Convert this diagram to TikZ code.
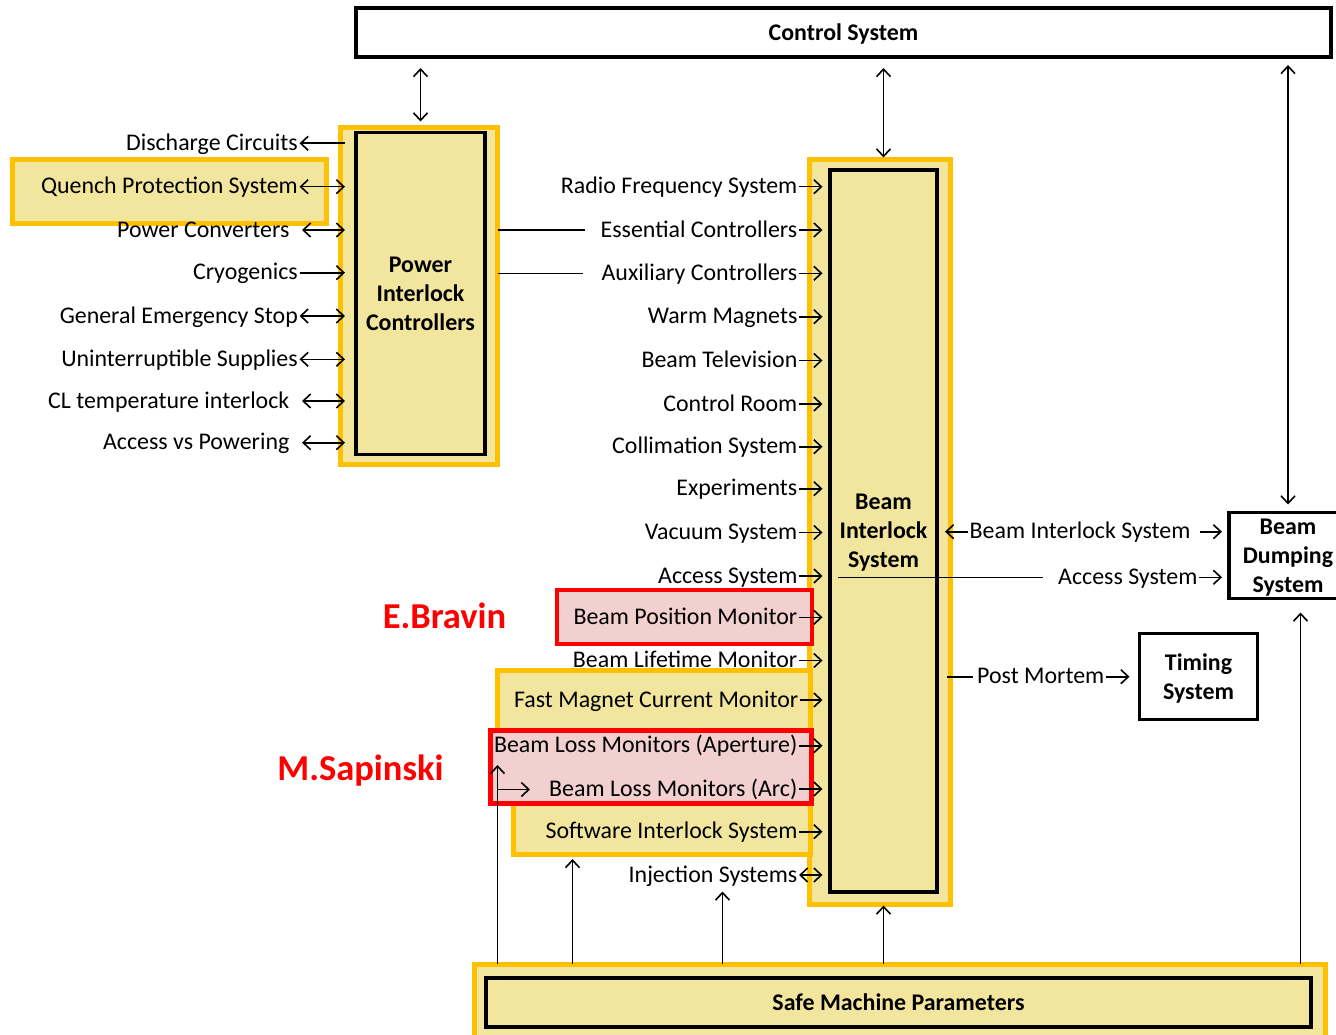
\documentclass[tikz,border=0pt]{standalone}
\usepackage{fontspec}
\setmainfont{Carlito}
\usetikzlibrary{arrows.meta,calc}
\definecolor{khaki}{RGB}{242,230,158}
\definecolor{amber}{RGB}{255,192,0}
\definecolor{rosy}{RGB}{243,208,208}
\tikzset{
  txt/.style={font=\fontsize{23.9}{29}\selectfont, inner xsep=1.5pt, inner ysep=0pt,
              text height=15.5pt, text depth=1.5pt},
  lbl/.style={txt, anchor=east},
  rlbl/.style={txt, anchor=west},
  title/.style={font=\fontsize{23.9}{29}\selectfont\bfseries, align=center, text depth=0pt},
  tag/.style={font=\fontsize{36.5}{40}\selectfont\bfseries, text=red, anchor=base, inner sep=0pt},
  hl/.style={draw=amber, line width=5pt, fill=khaki, inner sep=0pt, outer sep=0pt},
  rhl/.style={draw=red, line width=4.5pt, fill=rosy, inner sep=0pt, outer sep=0pt},
  blk/.style={draw=black, line width=3.5pt, inner sep=0pt, outer sep=0pt},
  link/.style={line width=1.6pt},
}
\begin{document}
\begin{tikzpicture}[x=1pt,y=-1pt,>={Straight Barb[length=7.5pt,width=14pt]}]
\useasboundingbox (0,0) rectangle (1336,1035);
\fill[white] (0,0) rectangle (1336,1035);

% top bar
\node[blk, fill=white, minimum width=975, minimum height=49, title] (cs) at (843.5,32.5) {Control System};

% power interlock controllers
\node[hl, minimum width=157, minimum height=337] (picout) at (419,296) {};
\node[hl, minimum width=314, minimum height=64] (qpsbox) at (169,191.5) {};

% beam interlock system frame and highlighted inputs
\node[hl, minimum width=141, minimum height=745] (bisout) at (880,532) {};
\node[hl, minimum width=313, minimum height=100] (fmcmbox) at (654,720) {};
\node[hl, minimum width=297, minimum height=70] (sisbox) at (662,819) {};
\node[rhl, minimum width=255, minimum height=54] (bpmbox) at (684.5,617) {};
\node[rhl, minimum width=321, minimum height=73] (blmbox) at (651,767) {};

\node[blk, fill=khaki, minimum width=129, minimum height=322, title] (pic) at (420.5,293.5) {Power\\Interlock\\Controllers};
\node[blk, fill=khaki, minimum width=107, minimum height=722, title] (bis) at (883.5,531) {Beam\\Interlock\\System};

% safe machine parameters
\node[hl, minimum width=851, minimum height=80] (smpout) at (900,1004) {};
\node[blk, fill=khaki, minimum width=825, minimum height=49, title] (smp) at (898.5,1002.5) {Safe Machine Parameters};

% receivers on the right
\node[blk, fill=white, minimum width=118, minimum height=86, title] (bds) at (1288,555.5) {Beam\\Dumping\\System};
\node[blk, fill=white, minimum width=118, minimum height=86, title] (tim) at (1198.5,676.5) {Timing\\System};

% tip positions
\coordinate (tipP) at (345,0);
\coordinate (tipB) at (822.5,0);

% left inputs of the power interlock controllers
\node[lbl] (dc)   at (299.5,143.3) {Discharge Circuits};
\node[lbl] (qps)  at (299.5,186.7) {Quench Protection System};
\node[lbl] (pc)   at (291,230)     {Power Converters};
\node[lbl] (cryo) at (299.5,272.7) {Cryogenics};
\node[lbl] (ges)  at (299.5,316)   {General Emergency Stop};
\node[lbl] (ups)  at (299.5,359.3) {Uninterruptible Supplies};
\node[lbl] (cl)   at (291,401)     {CL temperature interlock};
\node[lbl] (avp)  at (291,442.7)   {Access vs Powering};

\draw[link,<-]  (dc.east) -- (dc.east -| tipP);
\draw[link,<->] (qps.east) -- (qps.east -| tipP);
\draw[link,<->] ([xshift=11pt]pc.east) -- (pc.east -| tipP);
\draw[link,->]  (cryo.east) -- (cryo.east -| tipP);
\draw[link,<->] (ges.east) -- (ges.east -| tipP);
\draw[link,<->] (ups.east) -- (ups.east -| tipP);
\draw[link,<->] ([xshift=11pt]cl.east) -- (cl.east -| tipP);
\draw[link,<->] ([xshift=11pt]avp.east) -- (avp.east -| tipP);

% inputs of the beam interlock system
\node[lbl] (rf)   at (799,186.7) {Radio Frequency System};
\node[lbl] (ec)   at (799,230)   {Essential Controllers};
\node[lbl] (ac)   at (799,273.3) {Auxiliary Controllers};
\node[lbl] (wm)   at (799,316.7) {Warm Magnets};
\node[lbl] (btv)  at (799,360.5) {Beam Television};
\node[lbl] (cr)   at (799,404)   {Control Room};
\node[lbl] (coll) at (799,446.7) {Collimation System};
\node[lbl] (exp)  at (799,488.7) {Experiments};
\node[lbl] (vac)  at (799,532.5) {Vacuum System};
\node[lbl] (acc)  at (799,576)   {Access System};
\node[lbl] (bpm)  at (799,617.3) {Beam Position Monitor};
\node[lbl] (blt)  at (799,660.5) {Beam Lifetime Monitor};
\node[lbl] (fmcm) at (800,700)   {Fast Magnet Current Monitor};
\node[lbl] (blma) at (799,745.7) {Beam Loss Monitors (Aperture)};
\node[lbl] (blmc) at (799,789)   {Beam Loss Monitors (Arc)};
\node[lbl] (sis)  at (799,831.7) {Software Interlock System};
\node[lbl] (inj)  at (799,875)   {Injection Systems};

\foreach \n in {rf,ec,ac,wm,btv,cr,coll,exp,vac,acc,bpm,blt,fmcm,blma,blmc,sis}
  \draw[link,->] (\n.east) -- (\n.east -| tipB);
\draw[link,<->] (inj.east) -- (inj.east -| tipB);

% two lines leaving the power interlock controllers
\coordinate (ecend) at (585,230);
\coordinate (acend) at (583,273.3);
\draw[link] (picout.east |- ecend) -- (ecend);
\draw[link] (picout.east |- acend) -- (acend);

% links towards the dump and timing
\node[rlbl] (bisr) at (968,531.7) {Beam Interlock System};
\draw[link,->] (bisr.west) -- ([xshift=-5.5pt]bisout.east |- bisr.west);
\coordinate (bdsin) at (1222,0);
\draw[link,->] ([xshift=8pt]bisr.east) -- (bisr.east -| bdsin);

\node[rlbl] (accr) at (1056.5,577.3) {Access System};
\coordinate (accl) at (838,577.3);
\draw[link] (accl) -- ([xshift=-14pt]accr.west);
\draw[link,->] (accr.east) -- (accr.east -| bdsin);

\node[rlbl] (pm) at (975.5,676.7) {Post Mortem};
\draw[link] ([xshift=-3.5pt]bisout.east |- pm.west) -- ([xshift=-3pt]pm.west);
\draw[link,->] (pm.east) -- ([xshift=-10pt]tim.west |- pm.east);

% links with the control system
\draw[link,<->] ([yshift=-11pt]cs.south -| pic) -- ([yshift=6pt]picout.north -| pic);
\draw[link,<->] ([yshift=-11pt]cs.south -| bis) -- ([yshift=2pt]bisout.north -| bis);
\draw[link,<->] ([yshift=-8pt]cs.south -| bds) -- ([yshift=8pt]bds.north);

% safe machine parameters distribution
\coordinate (blmup) at (497.5,765);
\coordinate (blmarc) at (530,789.5);
\draw[link,->] (smpout.north -| blmup) -- (blmup);
\draw[link,->] (blmup |- blmarc) -- (blmarc);
\draw[link,->] (smpout.north -| 572.5,0) -- ([yshift=-5pt]sisbox.south -| 572.5,0);
\coordinate (injup) at (722.5,891.5);
\draw[link,->] (smpout.north -| injup) -- (injup);
\draw[link,->] (smpout.north -| bis) -- ([yshift=-1pt]bisout.south -| bis);
\draw[link,->] (smpout.north -| 1300.5,0) -- ([yshift=-14pt]bds.south -| 1300.5,0);

% owners
\node[tag] (eb) at (444.5,628) {E.Bravin};
\node[tag] (ms) at (360.5,780) {M.Sapinski};
\end{tikzpicture}
\end{document}
